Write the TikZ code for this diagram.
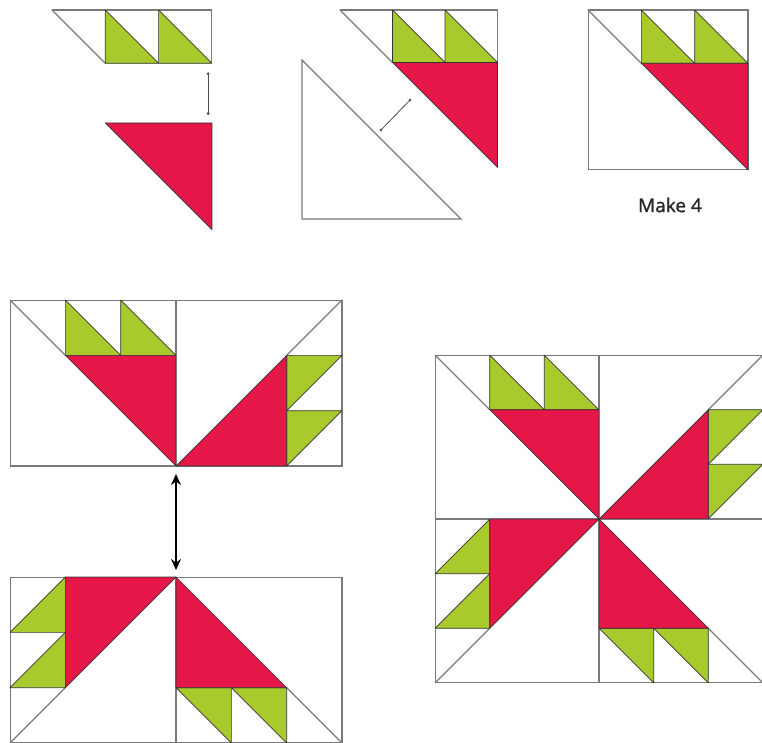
\documentclass[tikz,border=0pt]{standalone}
\usepackage{fontspec}
\newfontfamily\labelfont[FakeBold=1.2]{Open Sans}
\usepackage{tikz}
\usetikzlibrary{arrows.meta, calc}

\definecolor{leafgreen}{RGB}{168,202,45}
\definecolor{petalred}{RGB}{229,22,72}

% one bear paw block, centred on the origin, cells of size 1
\tikzset{
  paw/.pic={
    \draw[grid] (-1.5,-1.5) rectangle (1.5,1.5);
    \draw[grid] (-1.5,-1.5) -- (-0.5,-0.5);
    \filldraw[leaf] (-0.5,-1.5) -- (-0.5,-0.5) -- (0.5,-0.5) -- cycle;
    \filldraw[leaf] (0.5,-1.5) -- (0.5,-0.5) -- (1.5,-0.5) -- cycle;
    \filldraw[petal] (-0.5,-0.5) -- (1.5,-0.5) -- (1.5,1.5) -- cycle;
  }
}

\begin{document}
\begin{tikzpicture}[
    x=1pt, y=-1pt,
    grid/.style={draw=black!52, line width=1.1pt},
    leaf/.style={fill=leafgreen, draw=black!80, line width=0.7pt, line join=round},
    petal/.style={fill=petalred, draw=black!80, line width=0.7pt, line join=round},
    pinarr/.style={{Circle[length=2.8pt]}-{Circle[length=2.8pt]}, draw=black!70, line width=0.8pt},
    bigarr/.style={{Stealth[length=11pt,width=10pt]}-{Stealth[length=11pt,width=10pt]}, line width=1.6pt},
    lbl/.style={font=\labelfont\fontsize{19}{22}\selectfont, text=black!85},
  ]
  \useasboundingbox (0,0) rectangle (762,743);

  % step 1: flying geese strip and red triangle
  \begin{scope}[shift={(52,10)}, scale=53.3]
    \draw[grid] (0,0) -- (3,0) -- (3,1);
    \draw[grid] (0,0) -- (1,1);
    \filldraw[leaf] (1,0) -- (1,1) -- (2,1) -- cycle;
    \filldraw[leaf] (2,0) -- (2,1) -- (3,1) -- cycle;
    \coordinate (s1top) at (2.93,1.17);
  \end{scope}
  \begin{scope}[shift={(52,123)}, scale=53.3]
    \filldraw[petal] (1,0) -- (3,0) -- (3,2) -- cycle;
    \coordinate (s1bot) at (2.93,-0.15);
  \end{scope}
  \draw[pinarr] (s1top) -- (s1bot);

  % step 2: add the large white triangle
  \begin{scope}[shift={(340,10)}, scale=52.5]
    \draw[grid] (0,0) -- (3,0) -- (3,1);
    \draw[grid] (0,0) -- (1,1);
    \filldraw[leaf] (1,0) -- (1,1) -- (2,1) -- cycle;
    \filldraw[leaf] (2,0) -- (2,1) -- (3,1) -- cycle;
    \filldraw[petal] (1,1) -- (3,1) -- (3,3) -- cycle;
  \end{scope}
  \draw[grid] (302,60) coordinate (wt1) -- (302,219) -- (461,219) coordinate (wt3) -- cycle;
  \coordinate (s2a) at (380,131);
  \coordinate (s2b) at (411,99);
  \draw[pinarr] (s2a) -- (s2b);

  % finished unit
  \pic[scale=53.3] at (668,90) {paw};
  \node[lbl] (make) at (670,205) {Make 4};

  % joining the units in pairs
  \pic[scale=55.3] at (93,383) {paw};
  \pic[scale=55.3, rotate=-90] at (259,383) {paw};
  \pic[scale=55.3, rotate=90] at (93,660) {paw};
  \pic[scale=55.3, rotate=180] at (259,660) {paw};
  \coordinate (jtop) at (176,474);
  \coordinate (jbot) at (176,570);
  \draw[bigarr] (jtop) -- (jbot);

  % whole block
  \pic[scale=54.6] at (517,437) {paw};
  \pic[scale=54.6, rotate=-90] at (681,437) {paw};
  \pic[scale=54.6, rotate=90] at (517,601) {paw};
  \pic[scale=54.6, rotate=180] at (681,601) {paw};
\end{tikzpicture}
\end{document}
